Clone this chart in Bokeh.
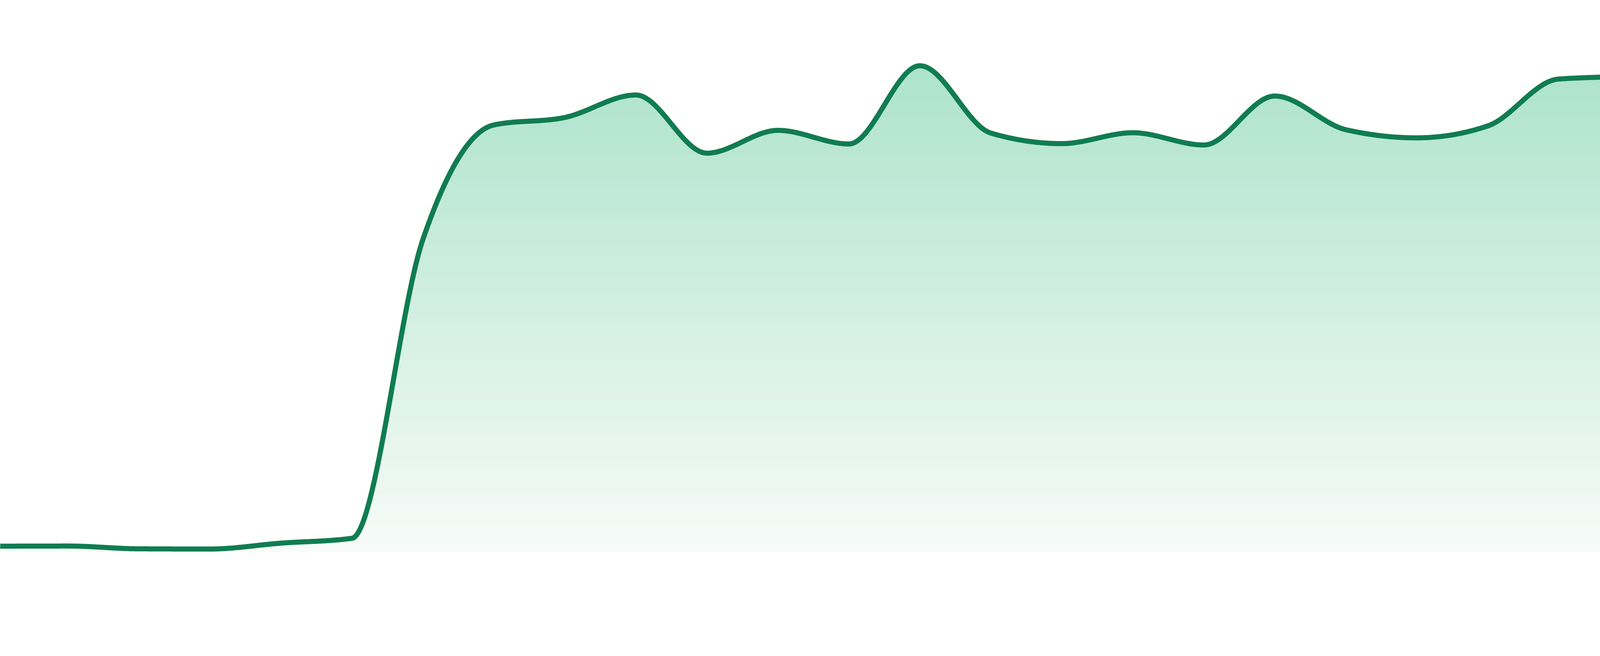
import numpy as np
from bokeh.plotting import figure
from bokeh.models import Range1d, ColumnDataSource
from bokeh.embed import file_html
from bokeh.resources import INLINE

# ---- data ----
index = list(range(24))
values = [1.7, 1.75, 0.93, 0.87, 2.6, 4.03, 92.0, 125.6, 127.8, 134.4, 117.3, 124.0,
          120.0, 143.0, 123.2, 120.1, 123.3, 119.7, 134.1, 124.2, 121.8, 125.3, 139.1, 139.8]

LINE_COLOR = "#107c52"
TOP_RGB = (173, 227, 203)
BOTTOM_RGB = (247, 251, 249)

# ---- layout: the page is photographed at ~1.148 device px per CSS px ----
SCALE = 1.1484
MARGIN = 8
W, H = 4164, 1447
SHOT_W, BASE_Y, UNIT = 4800.0, 1632.0, 10.0   # picture width, baseline row, px per unit
n_int = len(index) - 1
x_start = MARGIN * SCALE * n_int / SHOT_W
x_end = (MARGIN + W) * SCALE * n_int / SHOT_W
y_top = (BASE_Y - MARGIN * SCALE) / UNIT
y_bottom = (BASE_Y - (MARGIN + H) * SCALE) / UNIT


def monotone_x(xs, ys, n=60):
    """Monotone cubic interpolation (same rules as d3.curveMonotoneX)."""
    xs = np.asarray(xs, float)
    ys = np.asarray(ys, float)
    m = len(xs)
    t = np.zeros(m)

    def sgn(v):
        return -1.0 if v < 0 else 1.0

    for i in range(1, m - 1):
        h0 = xs[i] - xs[i - 1]
        h1 = xs[i + 1] - xs[i]
        s0 = (ys[i] - ys[i - 1]) / h0
        s1 = (ys[i + 1] - ys[i]) / h1
        p = (s0 * h1 + s1 * h0) / (h0 + h1)
        t[i] = (sgn(s0) + sgn(s1)) * min(abs(s0), abs(s1), 0.5 * abs(p))
    h = xs[1] - xs[0]
    t[0] = (3 * (ys[1] - ys[0]) / h - t[1]) / 2
    h = xs[-1] - xs[-2]
    t[-1] = (3 * (ys[-1] - ys[-2]) / h - t[-2]) / 2

    out_x, out_y = [], []
    for i in range(m - 1):
        x0, x1 = xs[i], xs[i + 1]
        y0, y1 = ys[i], ys[i + 1]
        dx = (x1 - x0) / 3
        c0, c1 = y0 + dx * t[i], y1 - dx * t[i + 1]
        u = np.linspace(0, 1, n, endpoint=(i == m - 2))
        bx = x0 + (x1 - x0) * u
        by = ((1 - u) ** 3) * y0 + 3 * ((1 - u) ** 2) * u * c0 + 3 * (1 - u) * u ** 2 * c1 + u ** 3 * y1
        out_x.append(bx)
        out_y.append(by)
    return np.concatenate(out_x), np.concatenate(out_y)


cx, cy = monotone_x(index, values)

p = figure(width=W, height=H, output_backend="svg", toolbar_location=None,
           x_range=Range1d(x_start, x_end), y_range=Range1d(y_bottom, y_top),
           min_border=0, min_border_left=0, min_border_right=0,
           min_border_top=0, min_border_bottom=0)
p.axis.visible = False
p.grid.visible = False
p.outline_line_color = None
p.background_fill_color = "white"
p.border_fill_color = "white"

# gradient fill under the curve, drawn as thin horizontal bands
top_v = max(values)
nb = 160
edges = np.linspace(0, top_v, nb + 1)
overlap = top_v / nb * 0.6
for k in range(nb):
    lo, hi = edges[k], edges[k + 1]
    f = (0.5 * (lo + hi)) / top_v
    r = int(round(BOTTOM_RGB[0] + (TOP_RGB[0] - BOTTOM_RGB[0]) * f))
    g = int(round(BOTTOM_RGB[1] + (TOP_RGB[1] - BOTTOM_RGB[1]) * f))
    b = int(round(BOTTOM_RGB[2] + (TOP_RGB[2] - BOTTOM_RGB[2]) * f))
    y1 = np.minimum(cy, lo)
    y2 = np.minimum(cy, hi + overlap)
    if np.all(y2 - y1 <= 0):
        continue
    src = ColumnDataSource(dict(x=cx, y1=y1, y2=y2))
    p.varea(x="x", y1="y1", y2="y2", source=src,
            fill_color="#%02x%02x%02x" % (r, g, b), fill_alpha=1.0)

p.line(cx, cy, line_color=LINE_COLOR, line_width=13, line_join="round", line_cap="round")

open("out.html", "w").write(file_html(p, INLINE))
